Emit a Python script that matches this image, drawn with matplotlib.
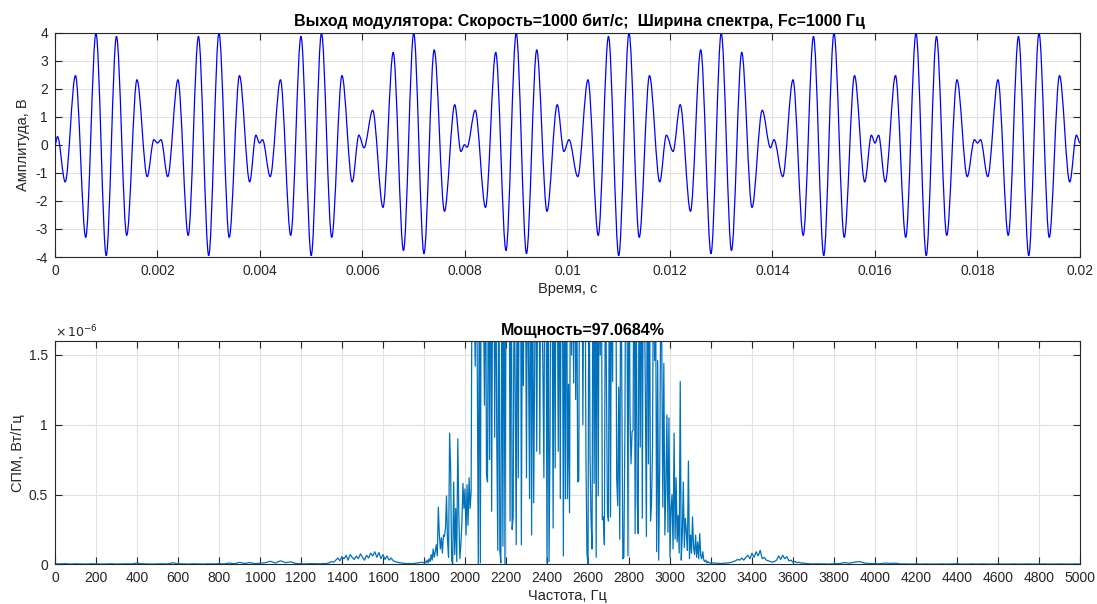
import numpy as np
import matplotlib
matplotlib.use('Agg')
import matplotlib.pyplot as plt
from matplotlib.path import Path
from matplotlib.patches import PathPatch

plt.rcParams['font.family'] = ['Liberation Sans', 'DejaVu Sans']
plt.rcParams['axes.unicode_minus'] = False

# --- modulator output: local extrema of the waveform (time in ms, volts) ---
wave_t_ms = [0.0, 0.05,
             0.2, 0.4, 0.6, 0.8, 1.0, 1.2, 1.4, 1.6, 1.8, 1.93, 2.0, 2.07,
             2.2, 2.4, 2.6, 2.8, 3.0, 3.2, 3.4, 3.6, 3.8, 3.92, 3.99, 4.05,
             4.2, 4.4, 4.6, 4.8, 5.0, 5.2, 5.4, 5.6, 5.8, 5.93, 6.03,
             6.2, 6.4, 6.6, 6.8, 7.0, 7.2, 7.4, 7.6, 7.8, 7.92, 7.99, 8.04,
             8.2, 8.4, 8.6, 8.8, 9.0, 9.2, 9.4, 9.6, 9.8, 9.93, 10.03,
             10.2, 10.4, 10.6, 10.8, 11.0, 11.2, 11.4, 11.6, 11.8, 11.93, 12.06,
             12.2, 12.4, 12.6, 12.8, 13.0, 13.2, 13.4, 13.6, 13.8, 13.96, 14.03,
             14.2, 14.4, 14.6, 14.8, 15.0, 15.2, 15.4, 15.6, 15.8, 15.93, 16.0, 16.07,
             16.2, 16.4, 16.6, 16.8, 17.0, 17.2, 17.4, 17.6, 17.8, 17.94, 18.0, 18.06,
             18.2, 18.4, 18.6, 18.8, 19.0, 19.2, 19.4, 19.6, 19.8, 19.93, 20.0]
wave_v = [0.0, 0.3,
          -1.32, 2.48, -3.3, 4.0, -3.95, 3.88, -3.23, 2.33, -1.13, 0.19, 0.07, 0.19,
          -1.13, 2.33, -3.23, 3.88, -3.95, 4.0, -3.3, 2.48, -1.32, 0.35, 0.07, 0.19,
          -1.13, 2.33, -3.23, 3.88, -3.95, 4.0, -3.3, 2.48, -1.32, 0.35, -0.1,
          1.24, -2.23, 3.31, -3.77, 4.0, -3.88, 3.4, -2.37, 1.44, -0.23, 0.01, -0.08,
          1.24, -2.23, 3.31, -3.77, 4.0, -3.88, 3.4, -2.37, 1.44, -0.23, 0.19,
          -1.13, 2.33, -3.23, 3.88, -3.95, 4.0, -3.3, 2.48, -1.32, 0.35, -0.23,
          1.44, -2.37, 3.4, -3.88, 4.0, -3.77, 3.31, -2.23, 1.24, -0.1, 0.19,
          -1.13, 2.33, -3.23, 3.88, -3.95, 4.0, -3.3, 2.48, -1.32, 0.35, 0.07, 0.35,
          -1.32, 2.48, -3.3, 4.0, -3.95, 3.88, -3.23, 2.33, -1.13, 0.19, 0.07, 0.19,
          -1.13, 2.33, -3.23, 3.88, -3.95, 4.0, -3.3, 2.48, -1.32, 0.35, 0.07]

time_ticks = [0, 0.002, 0.004, 0.006, 0.008, 0.01, 0.012, 0.014, 0.016, 0.018, 0.02]
time_labels = ['0', '0.002', '0.004', '0.006', '0.008', '0.01', '0.012',
               '0.014', '0.016', '0.018', '0.02']
amp_ticks = [-4, -3, -2, -1, 0, 1, 2, 3, 4]

# --- power spectral density, units of 1e-6 W/Hz ---
# 0 .. 1275 Hz, step 25
psd_low = [0.004, 0.003, 0.005, 0.002, 0.004, 0.003, 0.002, 0.004, 0.003, 0.002,
           0.003, 0.004, 0.002, 0.003, 0.004, 0.003, 0.009, 0.004, 0.003, 0.002,
           0.003, 0.004, 0.003, 0.011, 0.004, 0.003, 0.002, 0.004, 0.003, 0.002,
           0.004, 0.003, 0.005, 0.003, 0.009, 0.004, 0.014, 0.006, 0.012, 0.005,
           0.008, 0.011, 0.022, 0.009, 0.025, 0.012, 0.018, 0.006, 0.004, 0.003,
           0.005, 0.004]
# 1300 .. 1790 Hz, step 10
psd_side_lo = [0.004, 0.006, 0.005, 0.008, 0.012, 0.02, 0.015, 0.03, 0.045, 0.025,
               0.055, 0.04, 0.065, 0.03, 0.07, 0.05, 0.035, 0.06, 0.04, 0.075,
               0.05, 0.03, 0.065, 0.045, 0.08, 0.06, 0.09, 0.05, 0.085, 0.04,
               0.07, 0.035, 0.06, 0.03, 0.045, 0.025, 0.02, 0.015, 0.012, 0.01,
               0.007, 0.006, 0.005, 0.006, 0.004, 0.006, 0.008, 0.01, 0.012, 0.015]
# 1800 .. 3195 Hz, step 5
psd_main = [
    0.01, 0.02, 0.01, 0.03, 0.01, 0.04, 0.02, 0.07, 0.03, 0.11, 0.05, 0.09, 0.14, 0.06, 0.41, 0.21, 0.11, 0.19, 0.08, 0.21,
    0.20, 0.26, 0.49, 0.16, 0.05, 0.94, 0.69, 0.03, 0.00, 0.59, 0.07, 0.40, 0.02, 0.90, 0.35, 0.04, 0.14, 0.30, 0.58, 0.40,
    0.54, 0.21, 0.57, 0.28, 0.62, 0.40, 0.52, 2.40, 2.90, 1.90, 1.42, 2.60, 1.41, 0.00, 2.20, 0.01, 2.80, 3.10, 2.00, 1.14,
    2.50, 0.64, 0.59, 2.70, 0.75, 3.00, 0.38, 2.20, 2.90, 0.91, 2.40, 0.92, 0.10, 2.60, 0.10, 0.01, 2.30, 0.13, 2.80, 0.00,
    2.10, 3.00, 2.50, 2.70, 0.31, 2.90, 0.25, 0.34, 2.20, 1.26, 0.14, 2.60, 0.62, 2.40, 3.20, 0.14, 2.00, 1.28, 2.70, 2.30,
    0.62, 2.50, 1.46, 0.47, 2.90, 0.21, 2.40, 0.44, 1.40, 2.80, 0.81, 2.20, 3.10, 0.79, 2.60, 2.00, 1.40, 0.62, 2.70, 2.30,
    0.01, 2.50, 0.02, 0.93, 2.90, 2.10, 0.26, 2.60, 0.69, 3.00, 2.20, 0.81, 2.40, 0.47, 2.80, 2.30, 0.06, 2.50, 0.47, 2.90,
    0.47, 1.29, 0.37, 2.60, 1.50, 2.40, 1.30, 3.00, 1.18, 2.20, 0.59, 0.60, 2.70, 2.10, 2.90, 1.00, 2.30, 2.60, 0.78, 0.08,
    0.00, 2.50, 0.78, 0.32, 0.11, 2.80, 0.58, 2.20, 0.05, 2.90, 0.49, 2.40, 1.50, 2.60, 0.32, 0.34, 0.14, 2.30, 1.32, 0.36,
    0.31, 2.70, 0.34, 2.50, 1.31, 3.00, 2.20, 2.60, 0.62, 0.42, 1.27, 0.18, 2.40, 1.33, 0.04, 0.05, 0.93, 2.70, 2.10, 0.06,
    2.50, 1.07, 0.72, 0.95, 0.96, 2.80, 0.22, 2.30, 0.45, 0.22, 2.60, 0.84, 2.90, 0.33, 2.40, 2.00, 1.19, 0.20, 2.70, 0.72,
    2.30, 0.31, 0.45, 0.85, 2.60, 1.46, 2.00, 0.09, 1.46, 0.03, 0.73, 1.90, 1.55, 0.41, 1.44, 0.21, 0.55, 1.07, 0.23, 1.05,
    0.05, 0.40, 0.50, 0.11, 0.94, 0.18, 0.62, 0.16, 0.35, 0.08, 1.31, 0.03, 0.21, 0.59, 0.12, 0.33, 0.23, 0.10, 0.74, 0.04,
    0.21, 0.08, 0.34, 0.12, 0.07, 0.21, 0.05, 0.16, 0.04, 0.22, 0.06, 0.04, 0.09, 0.03, 0.02, 0.03, 0.01, 0.02, 0.01, 0.01]
# 3200 .. 3690 Hz, step 10
psd_side_hi = [0.012, 0.008, 0.01, 0.006, 0.008, 0.005, 0.007, 0.01, 0.008, 0.012,
               0.015, 0.02, 0.025, 0.035, 0.03, 0.045, 0.03, 0.05, 0.065, 0.04,
               0.08, 0.05, 0.09, 0.06, 0.1, 0.04, 0.05, 0.03, 0.025, 0.02,
               0.015, 0.02, 0.03, 0.06, 0.035, 0.065, 0.04, 0.055, 0.025, 0.03,
               0.015, 0.02, 0.012, 0.015, 0.008, 0.01, 0.006, 0.005, 0.004, 0.003]
# 3700 .. 5000 Hz, step 25
psd_high = [0.003, 0.004, 0.003, 0.002, 0.004, 0.005, 0.012, 0.008, 0.015, 0.02,
            0.008, 0.006, 0.005, 0.004, 0.009, 0.006, 0.008, 0.003, 0.003, 0.002,
            0.003, 0.002, 0.003, 0.002, 0.002, 0.003, 0.002, 0.003, 0.004, 0.002,
            0.002, 0.003, 0.002, 0.003, 0.002, 0.002, 0.003, 0.002, 0.002, 0.003,
            0.002, 0.002, 0.003, 0.002, 0.002, 0.003, 0.002, 0.002, 0.003, 0.002,
            0.002, 0.003, 0.002]

freq_ticks = list(range(0, 5001, 200))
psd_ticks = [0, 0.5, 1, 1.5]
psd_labels = ['0', '0.5', '1', '1.5']

title_top = 'Выход модулятора: Скорость=1000 бит/с;  Ширина спектра, Fc=1000 Гц'
title_bottom = 'Мощность=97.0684%'


def band(start, step, vals):
    return start + step * np.arange(len(vals))


freq = np.concatenate([band(0, 25, psd_low), band(1300, 10, psd_side_lo),
                       band(1800, 5, psd_main), band(3200, 10, psd_side_hi),
                       band(3700, 25, psd_high)])
psd = np.concatenate([psd_low, psd_side_lo, psd_main, psd_side_hi, psd_high])

ink = '#262626'


def style(ax):
    ax.grid(True, color='#e2e2e2', linewidth=0.8)
    ax.set_axisbelow(True)
    for s in ax.spines.values():
        s.set_color(ink)
        s.set_linewidth(0.8)
    ax.tick_params(direction='in', top=True, right=True, length=5, width=0.8,
                   colors=ink, labelsize=10, pad=5)


fig = plt.figure(figsize=(10.97, 6.04), dpi=100)
ax1 = fig.add_axes([0.0501, 0.5745, 0.9344, 0.3709])
ax2 = fig.add_axes([0.0501, 0.0657, 0.9344, 0.3697])

# top: waveform drawn as smooth curve through the extrema
t = np.array(wave_t_ms) / 1000.0
v = np.array(wave_v)
verts = [(t[0], v[0])]
codes = [Path.MOVETO]
for i in range(len(t) - 1):
    d = t[i + 1] - t[i]
    verts += [(t[i] + d / 3, v[i]), (t[i + 1] - d / 3, v[i + 1]), (t[i + 1], v[i + 1])]
    codes += [Path.CURVE4] * 3
ax1.add_patch(PathPatch(Path(verts, codes), facecolor='none', edgecolor='#0000ff', lw=0.9))
ax1.set_xlim(0, 0.02)
ax1.set_ylim(-4, 4)
ax1.set_xticks(time_ticks)
ax1.set_xticklabels(time_labels)
ax1.set_yticks(amp_ticks)
style(ax1)
ax1.set_xlabel('Время, с', fontsize=10.5, color=ink, labelpad=3)
ax1.set_ylabel('Амплитуда, В', fontsize=10.5, color=ink, labelpad=4)
ax1.set_title(title_top, fontsize=11.5, fontweight='bold', x=0.512, pad=5)

# bottom: spectrum
ax2.plot(freq, psd, color='#0072bd', lw=0.9)
ax2.set_xlim(0, 5000)
ax2.set_ylim(0, 1.6)
ax2.set_xticks(freq_ticks)
ax2.set_yticks(psd_ticks)
ax2.set_yticklabels(psd_labels)
style(ax2)
ax2.set_xlabel('Частота, Гц', fontsize=10.5, color=ink, labelpad=3)
ax2.set_ylabel('СПМ, Вт/Гц', fontsize=10.5, color=ink, labelpad=3)
ax2.set_title(title_bottom, fontsize=11.5, fontweight='bold', x=0.515, pad=4)
ax2.text(0.0, 1.005, r'$\times\,10^{-6}$', transform=ax2.transAxes, fontsize=9,
         color=ink, va='bottom', ha='left')

fig.savefig('out.png', dpi=100)
